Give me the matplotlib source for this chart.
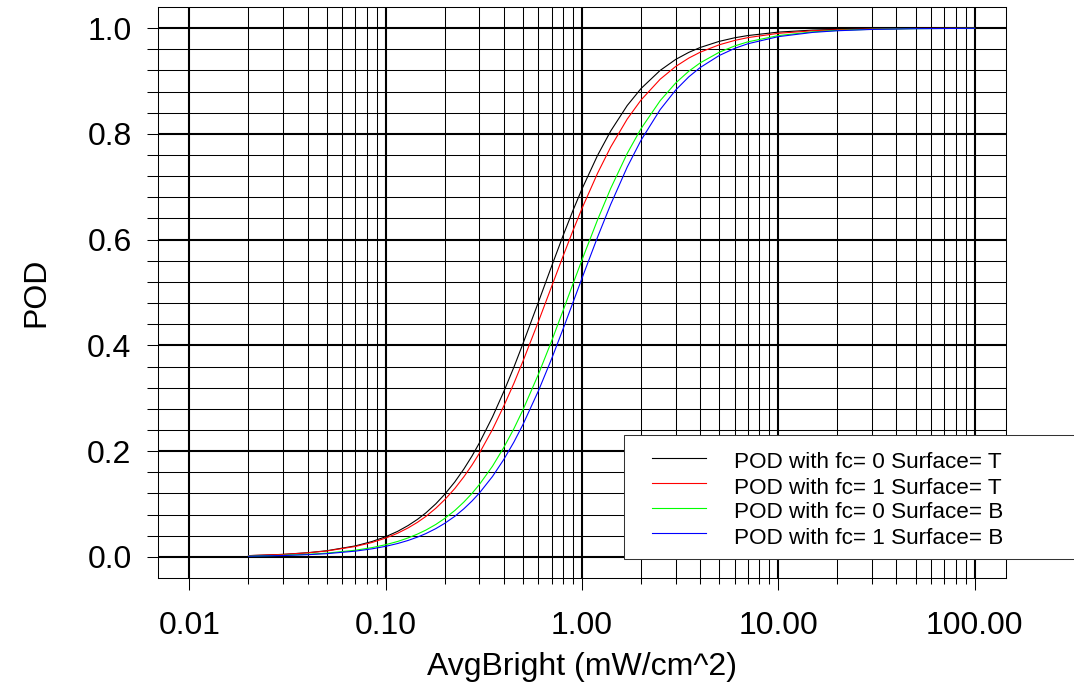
import matplotlib
matplotlib.use("Agg")
import matplotlib.pyplot as plt
from matplotlib.lines import Line2D
from matplotlib.patches import Rectangle
from matplotlib.ticker import FixedLocator, NullFormatter

plt.rcParams['font.family'] = ['Liberation Sans', 'DejaVu Sans']

# values
bright = [0.02, 0.03, 0.04, 0.05, 0.07, 0.085, 0.1, 0.115, 0.13, 0.145, 0.16,
          0.18, 0.2, 0.225, 0.25, 0.275, 0.3, 0.35, 0.4, 0.45, 0.5, 0.6, 0.7,
          0.8, 0.9, 1.0, 1.2, 1.4, 1.7, 2.0, 2.5, 3, 3.5, 4, 5, 6, 7, 10, 15,
          20, 30, 50, 100]

pod_fc0_T = [0.0023, 0.0047, 0.0078, 0.0115, 0.0207, 0.0289, 0.0381, 0.0482,
             0.0592, 0.0708, 0.0830, 0.1003, 0.1185, 0.1418, 0.1660, 0.1905,
             0.2154, 0.2647, 0.3130, 0.3589, 0.4030, 0.4820, 0.5496, 0.6071,
             0.6554, 0.6959, 0.7593, 0.8054, 0.8537, 0.8859, 0.9200, 0.9408,
             0.9542, 0.9634, 0.9750, 0.9818, 0.9860, 0.9925, 0.9963, 0.9978,
             0.9989, 0.9996, 0.9999]
pod_fc1_T = [0.0023, 0.0046, 0.0076, 0.0111, 0.0196, 0.0271, 0.0355, 0.0447,
             0.0547, 0.0652, 0.0763, 0.0919, 0.1083, 0.1293, 0.1513, 0.1734,
             0.1959, 0.2410, 0.2857, 0.3283, 0.3698, 0.4452, 0.5112, 0.5683,
             0.6173, 0.6591, 0.7255, 0.7751, 0.8281, 0.8642, 0.9033, 0.9275,
             0.9434, 0.9545, 0.9685, 0.9768, 0.9821, 0.9902, 0.9951, 0.9970,
             0.9985, 0.9994, 0.9998]
pod_fc0_B = [0.0014, 0.0029, 0.0048, 0.0070, 0.0125, 0.0174, 0.0230, 0.0291,
             0.0358, 0.0430, 0.0505, 0.0613, 0.0728, 0.0877, 0.1036, 0.1199,
             0.1368, 0.1715, 0.2072, 0.2425, 0.2779, 0.3455, 0.4081, 0.4653,
             0.5165, 0.5617, 0.6374, 0.6968, 0.7631, 0.8101, 0.8627, 0.8962,
             0.9186, 0.9343, 0.9544, 0.9664, 0.9741, 0.9859, 0.9930, 0.9957,
             0.9979, 0.9991, 0.9997]
pod_fc1_B = [0.0012, 0.0025, 0.0041, 0.0060, 0.0108, 0.0151, 0.0199, 0.0252,
             0.0310, 0.0373, 0.0439, 0.0534, 0.0635, 0.0767, 0.0908, 0.1055,
             0.1206, 0.1520, 0.1845, 0.2172, 0.2501, 0.3141, 0.3745, 0.4305,
             0.4813, 0.5270, 0.6047, 0.6666, 0.7373, 0.7882, 0.8458, 0.8829,
             0.9079, 0.9255, 0.9482, 0.9618, 0.9705, 0.9839, 0.9920, 0.9951,
             0.9976, 0.9990, 0.9997]

series = [pod_fc0_T, pod_fc1_T, pod_fc0_B, pod_fc1_B]
labels = ["POD with fc= 0 Surface= T", "POD with fc= 1 Surface= T",
          "POD with fc= 0 Surface= B", "POD with fc= 1 Surface= B"]
colors = ["black", "#FF0000", "#00FF00", "#0000FF"]

xticks = [0.01, 0.1, 1, 10, 100]
xtick_labels = ["0.01", "0.10", "1.00", "10.00", "100.00"]
yticks = [0.0, 0.2, 0.4, 0.6, 0.8, 1.0]
ytick_labels = ["0.0", "0.2", "0.4", "0.6", "0.8", "1.0"]

W, H = 1074, 686
fig = plt.figure(figsize=(W / 100, H / 100), dpi=100)
ax = fig.add_axes([158 / W, (H - 578) / H, 848 / W, 571 / H])

for y, c in zip(series, colors):
    ax.plot(bright, y, color=c, lw=0.8, zorder=3)

ax.set_xscale("log")
ax.set_xlim(10 ** -2.16, 10 ** 2.16)
ax.set_ylim(-0.04, 1.04)

minor_x = [k * d for d in (0.01, 0.1, 1, 10) for k in range(2, 10)]
minor_y = [i * 0.04 for i in range(26)]
ax.xaxis.set_major_locator(FixedLocator(xticks))
ax.xaxis.set_minor_locator(FixedLocator(minor_x))
ax.xaxis.set_minor_formatter(NullFormatter())
ax.set_xticklabels(xtick_labels)
ax.yaxis.set_major_locator(FixedLocator(yticks))
ax.yaxis.set_minor_locator(FixedLocator(minor_y))
ax.set_yticklabels(ytick_labels)

ax.grid(which="major", color="black", lw=1.5, zorder=1)
ax.grid(which="minor", color="black", lw=0.75, zorder=1)
ax.set_axisbelow(True)

ax.tick_params(axis="x", which="major", length=8.6, width=0.75, pad=15, labelsize=23)
ax.tick_params(axis="x", which="minor", length=4, width=0.75)
ax.tick_params(axis="y", which="both", length=8, width=0.75, pad=11, labelsize=23)
for s in ax.spines.values():
    s.set_linewidth(0.75)

ax.set_xlabel("AvgBright (mW/cm^2)", fontsize=23, labelpad=8)
ax.set_ylabel("POD", fontsize=23, labelpad=26)

# legend box (runs off the right edge like the original)
fx = lambda px: px / W
fy = lambda py: (H - py) / H
fig.add_artist(Rectangle((fx(624), fy(559)), fx(1100) - fx(624), fy(435) - fy(559),
                         transform=fig.transFigure, facecolor="white",
                         edgecolor="#333333", lw=0.75, zorder=5))
for i, (lab, c) in enumerate(zip(labels, colors)):
    yl = 457.7 + 25 * i
    fig.add_artist(Line2D([fx(652), fx(706)], [fy(yl), fy(yl)], color=c, lw=0.8,
                          transform=fig.transFigure, zorder=6))
    fig.text(fx(734), fy(yl + 10.8), lab, fontsize=16.2, va="baseline", ha="left",
             zorder=6)

fig.savefig("out.png", dpi=100)
